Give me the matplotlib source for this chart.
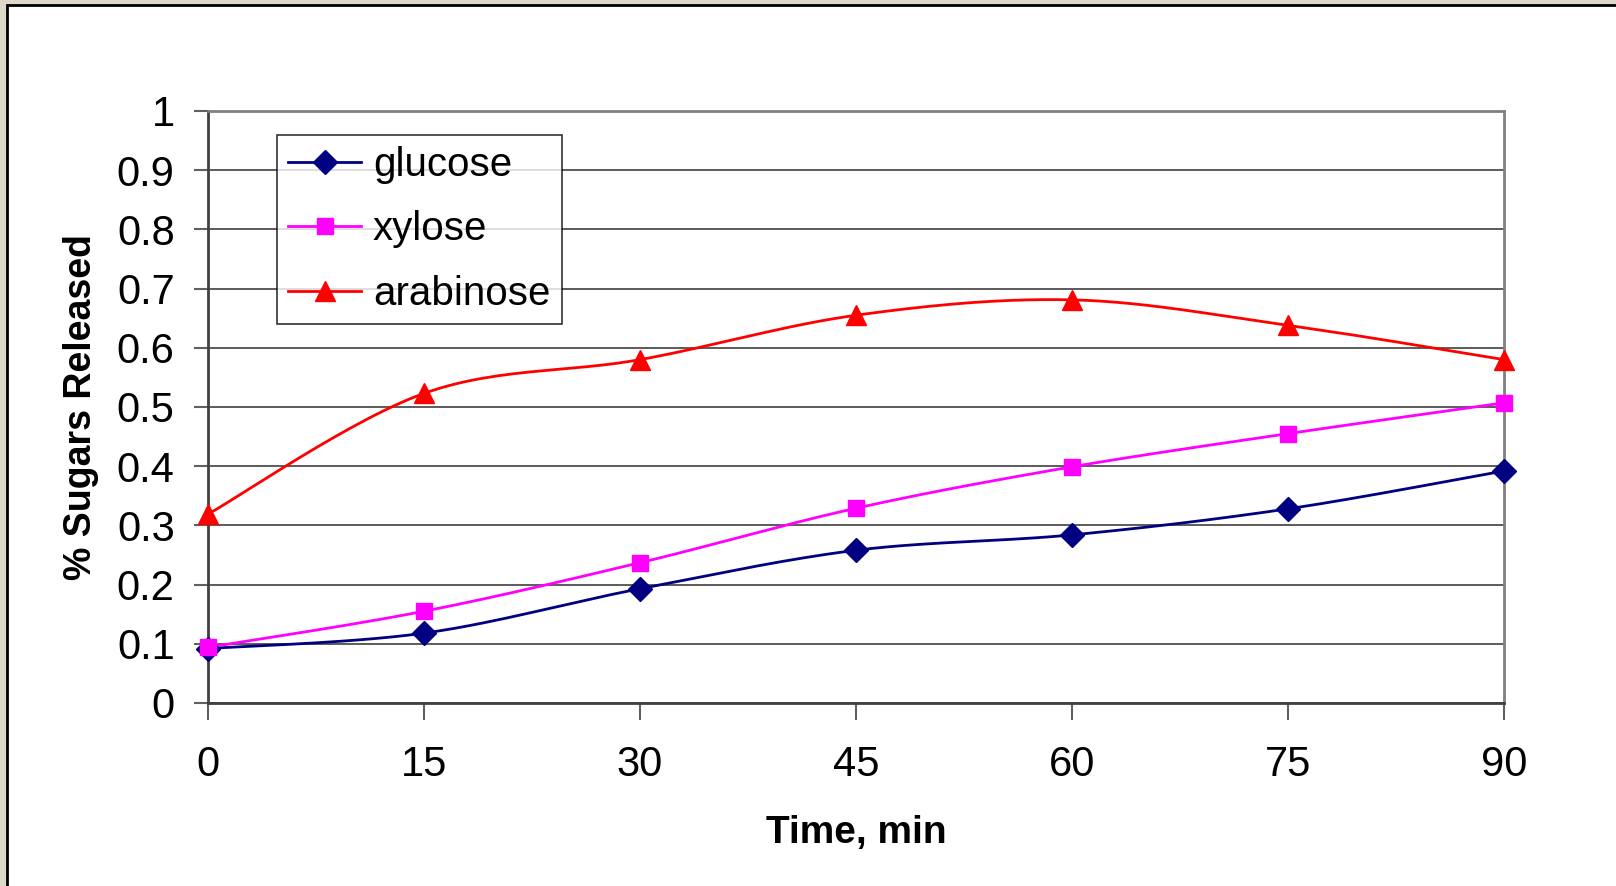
import numpy as np
import matplotlib
matplotlib.use("Agg")
import matplotlib.pyplot as plt
from matplotlib.patches import Rectangle
from matplotlib import font_manager

# данные
time_min = [0, 15, 30, 45, 60, 75, 90]
glucose = [0.092, 0.118, 0.193, 0.258, 0.284, 0.328, 0.392]
xylose = [0.094, 0.155, 0.237, 0.329, 0.399, 0.455, 0.507]
arabinose = [0.319, 0.523, 0.580, 0.655, 0.681, 0.638, 0.580]

y_ticks = [0, 0.1, 0.2, 0.3, 0.4, 0.5, 0.6, 0.7, 0.8, 0.9, 1]
y_tick_labels = ["0", "0.1", "0.2", "0.3", "0.4", "0.5", "0.6", "0.7", "0.8", "0.9", "1"]

installed = {f.name for f in font_manager.fontManager.ttflist}
if "Liberation Sans Narrow" in installed:
    plt.rcParams["font.family"] = ["Liberation Sans Narrow", "Liberation Sans", "DejaVu Sans"]
else:
    plt.rcParams["font.family"] = ["Liberation Sans", "DejaVu Sans"]


def excel_smooth(x, y, n=30):
    # сглаживание как в Excel: кривые Безье с касательными по соседним точкам
    x = np.asarray(x, float)
    y = np.asarray(y, float)
    px = np.concatenate([[x[0]], x, [x[-1]]])
    py = np.concatenate([[y[0]], y, [y[-1]]])
    xs, ys = [], []
    t = np.linspace(0, 1, n)
    for i in range(1, len(px) - 2):
        p0 = np.array([px[i], py[i]])
        p3 = np.array([px[i + 1], py[i + 1]])
        c1 = p0 + (np.array([px[i + 1], py[i + 1]]) - np.array([px[i - 1], py[i - 1]])) / 6
        c2 = p3 - (np.array([px[i + 2], py[i + 2]]) - np.array([px[i], py[i]])) / 6
        pts = ((1 - t) ** 3)[:, None] * p0 + (3 * (1 - t) ** 2 * t)[:, None] * c1 \
            + (3 * (1 - t) * t ** 2)[:, None] * c2 + (t ** 3)[:, None] * p3
        xs.extend(pts[:, 0])
        ys.extend(pts[:, 1])
    return xs, ys


fig = plt.figure(figsize=(16.16, 8.86), dpi=100)
fig.patches.append(Rectangle((0, 0), 1, 1, transform=fig.transFigure,
                             facecolor="#ddd8c8", edgecolor="none", zorder=-10))
fig.patches.append(Rectangle((6.5 / 1616, -0.01), 1.1, 1 - 4.5 / 886 + 0.01,
                             transform=fig.transFigure, facecolor="white",
                             edgecolor="black", linewidth=2, zorder=-9))

ax = fig.add_axes([208 / 1616, 1 - 703 / 886, (1504 - 208) / 1616, (703 - 111) / 886])

series = [
    ("glucose", glucose, "#000080", "D", 12),
    ("xylose", xylose, "#ff00ff", "s", 12),
    ("arabinose", arabinose, "#ff0000", "^", 15),
]
for name, vals, color, marker, ms in series:
    sx, sy = excel_smooth(time_min, vals)
    ax.plot(sx, sy, color=color, linewidth=2, zorder=3)
    ax.plot(time_min, vals, linestyle="none", marker=marker, markersize=ms,
            color=color, zorder=4, clip_on=False)
    ax.plot([], [], color=color, linewidth=2, marker=marker, markersize=ms, label=name)

ax.set_xlim(0, 90)
ax.set_ylim(0, 1)
ax.set_xticks(time_min)
ax.set_xticklabels([str(t) for t in time_min])
ax.set_yticks(y_ticks)
ax.set_yticklabels(y_tick_labels)
ax.grid(axis="y", color="black", linewidth=1.2, alpha=0.75)
ax.set_axisbelow(True)

for side in ("top", "right"):
    ax.spines[side].set_color("#808080")
    ax.spines[side].set_linewidth(2)
for side in ("left", "bottom"):
    ax.spines[side].set_color("#404040")
    ax.spines[side].set_linewidth(2)

ax.tick_params(axis="both", labelsize=30, width=1.5, color="#606060")
ax.tick_params(axis="y", length=10, pad=14, direction="out")
ax.tick_params(axis="x", length=12, pad=18, direction="out")

ax.set_xlabel("Time, min", fontsize=28, fontweight="bold", labelpad=22)
ax.set_ylabel("% Sugars Released", fontsize=27, fontweight="bold", labelpad=13)

leg = ax.legend(loc="upper left", bbox_to_anchor=(69 / 1296, 1 - 24 / 592),
                borderaxespad=0, fontsize=29, frameon=True, fancybox=False,
                handlelength=1.8, borderpad=0.28, labelspacing=0.65,
                handletextpad=0.3)
leg.get_frame().set_edgecolor("black")
leg.get_frame().set_linewidth(1.2)

fig.savefig("out.png", dpi=100)
